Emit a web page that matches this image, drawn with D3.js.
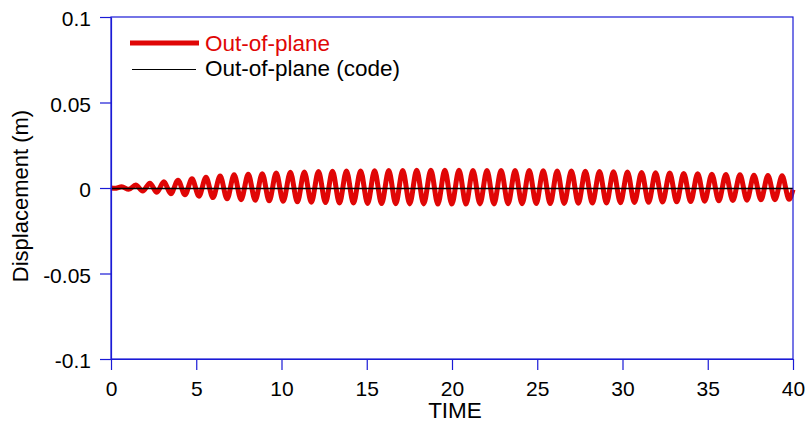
<!DOCTYPE html>
<html>
<head>
<meta charset="utf-8">
<script src="https://cdn.jsdelivr.net/npm/d3@7"></script>
<style>
  html, body { margin: 0; padding: 0; background: #fff; }
  svg { display: block; font-family: "Liberation Sans", Arial, sans-serif; }
</style>
</head>
<body>
<svg id="chart" width="809" height="422"></svg>
<script>
// Out-of-plane displacement history: successive extrema (time in s, displacement in m)
const time = [
  0, 0.22, 0.63, 1.04, 1.45, 1.86, 2.28, 2.69, 3.10, 3.51, 3.93, 4.34, 4.75, 5.16, 5.57, 5.98,
  6.40, 6.81, 7.22, 7.63, 8.05, 8.46, 8.87, 9.28, 9.69, 10.10, 10.52, 10.93, 11.34, 11.75,
  12.17, 12.58, 12.99, 13.40, 13.81, 14.22, 14.64, 15.05, 15.46, 15.87, 16.29, 16.70, 17.11,
  17.52, 17.93, 18.34, 18.76, 19.17, 19.58, 19.99, 20.41, 20.82, 21.23, 21.64, 22.05, 22.46,
  22.88, 23.29, 23.70, 24.11, 24.53, 24.94, 25.35, 25.76, 26.17, 26.58, 27.00, 27.41, 27.82,
  28.23, 28.65, 29.06, 29.47, 29.88, 30.29, 30.70, 31.12, 31.53, 31.94, 32.35, 32.77, 33.18,
  33.59, 34.00, 34.41, 34.82, 35.24, 35.65, 36.06, 36.47, 36.89, 37.30, 37.71, 38.12, 38.53,
  38.94, 39.36, 39.77, 40
];
const outOfPlane = [
  0, -0.0002, 0.0007, -0.0008, 0.0017, -0.0018, 0.0028, -0.0025, 0.0036, -0.0033, 0.0045, -0.0040,
  0.0054, -0.0048, 0.0063, -0.0056, 0.0070, -0.0063, 0.0077, -0.0068, 0.0080, -0.0072, 0.0084,
  -0.0075, 0.0088, -0.0078, 0.0092, -0.0081, 0.0094, -0.0083, 0.0096, -0.0085, 0.0098, -0.0087,
  0.0099, -0.0088, 0.0100, -0.0090, 0.0101, -0.0091, 0.0102, -0.0092, 0.0103, -0.0093, 0.0104,
  -0.0093, 0.0104, -0.0094, 0.0104, -0.0094, 0.0104, -0.0094, 0.0103, -0.0093, 0.0103, -0.0093,
  0.0103, -0.0092, 0.0102, -0.0092, 0.0102, -0.0091, 0.0101, -0.0091, 0.0100, -0.0090, 0.0099,
  -0.0089, 0.0098, -0.0088, 0.0096, -0.0087, 0.0095, -0.0086, 0.0093, -0.0085, 0.0091, -0.0084,
  0.0089, -0.0082, 0.0087, -0.0081, 0.0085, -0.0079, 0.0083, -0.0077, 0.0081, -0.0075, 0.0079,
  -0.0073, 0.0077, -0.0071, 0.0075, -0.0069, 0.0073, -0.0068, 0.0071, -0.0066, -0.0010
];
// Reference ("code") result, flat at zero over the whole record
const codeTime = [0, 40];
const codeValue = [0, 0];

const xTicks = [0, 5, 10, 15, 20, 25, 30, 35, 40];
const yTicks = [0.1, 0.05, 0, -0.05, -0.1];
const yTickLabels = ["0.1", "0.05", "0", "-0.05", "-0.1"];
const seriesNames = ["Out-of-plane", "Out-of-plane (code)"];

const axisBlue = "#1a1ad6";
const red = "#e00606";
const fontFam = "'Liberation Sans', Arial, sans-serif";

const svg = d3.select("#chart");
const m = { left: 111, right: 16, top: 17, bottom: 63 };
const W = 809, H = 422;
const pw = W - m.left - m.right, ph = H - m.top - m.bottom;

const x = d3.scaleLinear().domain([0, 40]).range([m.left, m.left + pw]);
const y = d3.scaleLinear().domain([-0.1, 0.1]).range([m.top + ph, m.top]);

// traces
const main = d3.range(time.length).map(i => [time[i], outOfPlane[i]]);
const code = d3.range(codeTime.length).map(i => [codeTime[i], codeValue[i]]);
const line = d3.line().x(d => x(d[0])).y(d => y(d[1])).curve(d3.curveMonotoneX);

svg.append("path").datum(main).attr("d", line)
  .attr("fill", "none").attr("stroke", red).attr("stroke-width", 5)
  .attr("stroke-linejoin", "round");
svg.append("path").datum(code)
  .attr("d", d3.line().x(d => x(d[0])).y(d => y(d[1]) + 0.5))
  .attr("fill", "none").attr("stroke", "#000").attr("stroke-width", 1.5);

// frame
svg.append("rect")
  .attr("x", m.left).attr("y", m.top).attr("width", pw).attr("height", ph)
  .attr("fill", "none").attr("stroke", axisBlue).attr("stroke-width", 1.2);

// axes
const xAxis = svg.append("g").attr("transform", `translate(0,${m.top + ph})`)
  .call(d3.axisBottom(x).tickValues(xTicks).tickSize(11).tickSizeOuter(0).tickPadding(11).tickFormat(d3.format("d")));
const yAxis = svg.append("g").attr("transform", `translate(${m.left},0)`)
  .call(d3.axisLeft(y).tickValues(yTicks).tickSize(11).tickSizeOuter(0).tickPadding(9)
    .tickFormat((d, i) => yTickLabels[i]));
[xAxis, yAxis].forEach(g => {
  g.select(".domain").attr("stroke", axisBlue).attr("stroke-width", 1.2);
  g.selectAll(".tick line").attr("stroke", axisBlue).attr("stroke-width", 1.2);
  g.selectAll(".tick text").attr("fill", "#000").style("font-size", "21px")
    .style("font-family", fontFam);
});
yAxis.selectAll(".tick text").attr("dy", "0.42em");

// axis titles
svg.append("text").attr("x", m.left + pw / 2 + 3).attr("y", 418)
  .attr("text-anchor", "middle").style("font-size", "22.5px").text("TIME");
svg.append("text").attr("transform", `translate(28,${m.top + ph / 2 + 8}) rotate(-90)`)
  .attr("text-anchor", "middle").style("font-size", "22px").text("Displacement (m)");

// legend
const lg = svg.append("g");
lg.append("line").attr("x1", 130).attr("x2", 199).attr("y1", 43).attr("y2", 43)
  .attr("stroke", red).attr("stroke-width", 5);
lg.append("text").attr("x", 205).attr("y", 51).attr("fill", red)
  .style("font-size", "22.5px").text(seriesNames[0]);
lg.append("line").attr("x1", 132).attr("x2", 196).attr("y1", 69.5).attr("y2", 69.5)
  .attr("stroke", "#000").attr("stroke-width", 1);
lg.append("text").attr("x", 205).attr("y", 76).attr("fill", "#000")
  .style("font-size", "22.5px").text(seriesNames[1]);
</script>
</body>
</html>
